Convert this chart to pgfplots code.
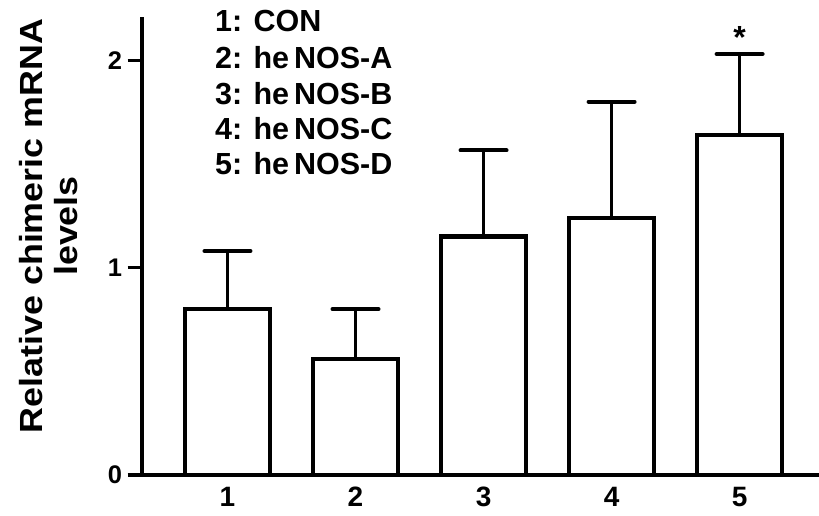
\documentclass[border=0pt]{standalone}
\usepackage{fontspec}
\setmainfont{Liberation Sans}
\newfontfamily\ylfont[FakeStretch=1.12]{Liberation Sans}
\usepackage{pgfplots}
\usepackage{pgfplotstable}
\pgfplotsset{compat=1.18}
\pgfplotstableread{
x y e
1 0.80 0.28
2 0.56 0.24
3 1.15 0.415
4 1.24 0.56
5 1.64 0.39
}\datatable
\begin{document}
\begin{tikzpicture}
\begin{axis}[
  scale only axis, width=677.3pt, height=458.3pt,
  xmin=0.33, xmax=5.62, ymin=0, ymax=2.21,
  axis x line*=bottom, axis y line*=left,
  axis line style={line width=4pt, line cap=butt},
  ytick={0,1,2}, xtick={1,2,3,4,5},
  tick align=outside, major tick length=14pt,
  ytick style={line width=3.5pt, black},
  xtick style={draw=none},
  yticklabel={\fontsize{25.5}{25.5}\selectfont\bfseries\pgfmathprintnumber[assume math mode=true]{\tick}},
  xticklabel={\fontsize{28}{28}\selectfont\bfseries\pgfmathprintnumber[assume math mode=true]{\tick}},
  xticklabel style={inner sep=2pt, yshift=4pt},
  yticklabel style={xshift=-2pt},
  ylabel={Relative chimeric mRNA\\levels},
  ylabel style={at={(rel axis cs:-0.1369,0.5433)}, anchor=center, align=center,
    font=\ylfont\bfseries\fontsize{32}{35}\selectfont},
  ybar, bar width=85pt,
  clip=false,
]
\addplot[fill=white, draw=black, line width=4.2pt,
  error bars/.cd, y dir=plus, y explicit, error mark=|,
  error bar style={line width=3.5pt, black},
  error mark options={line width=4pt, mark size=23pt, line cap=round, black}]
  table[x=x, y=y, y error=e] {\datatable};
\coordinate (o) at (axis cs:0.33,0);
\begin{scope}[every node/.style={anchor=base west, inner sep=0pt, font=\fontsize{30.5}{30.5}\selectfont\bfseries}]
\node at (axis cs:0.902,2.137) {1: CON};
\node at (axis cs:0.902,1.959) {2: he\kern5pt NOS-A};
\node at (axis cs:0.902,1.785) {3: he\kern5pt NOS-B};
\node at (axis cs:0.902,1.617) {4: he\kern5pt NOS-C};
\node at (axis cs:0.902,1.447) {5: he\kern5pt NOS-D};
\end{scope}
\node[anchor=north, inner sep=0pt, font=\fontsize{32}{32}\selectfont\bfseries] at (axis cs:5,2.163) {*};
\end{axis}
\pgfresetboundingbox
\path[use as bounding box] (o) ++(-141.7pt,-40pt) rectangle ++(819pt,515pt);
\end{tikzpicture}
\end{document}
